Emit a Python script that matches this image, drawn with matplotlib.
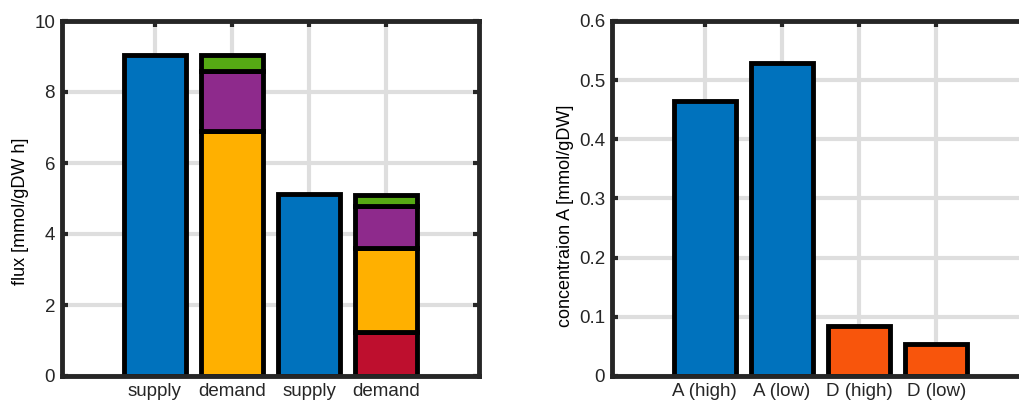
import numpy as np
import matplotlib
matplotlib.use("Agg")
import matplotlib.pyplot as plt

# ---------------------------------------------------------------- data
flux_labels = ["supply", "demand", "supply", "demand"]
supply_vals = [9.05, 5.13]
# demand stacks, bottom -> top
demand_red = [0.0, 1.25]
demand_yellow = [6.9, 2.36]
demand_purple = [1.7, 1.18]
demand_green = [0.45, 0.31]

conc_labels = ["A (high)", "A (low)", "D (high)", "D (low)"]
conc_vals = [0.465, 0.529, 0.084, 0.0535]

# ---------------------------------------------------------------- style
blue = "#0072BD"
yellow = "#FFB000"
purple = "#8E2A8C"
green = "#56AA14"
red = "#BE0F2E"
orange = "#F8550C"
axcol = "#262626"
gridcol = "#DEDEDE"

plt.rcParams["font.family"] = ["Liberation Sans", "DejaVu Sans"]
plt.rcParams["font.size"] = 13.5

fig = plt.figure(figsize=(10.19, 4.03), dpi=100)
ax1 = fig.add_axes([62 / 1019, 27 / 403, 417 / 1019, 355 / 403])
ax2 = fig.add_axes([612 / 1019, 27 / 403, 417 / 1019, 355 / 403])

bw = 0.8
kw = dict(width=bw, edgecolor="black", linewidth=3.5, zorder=3)

# left: flux supply / demand
xs = np.arange(1, 5)
ax1.bar([xs[0], xs[2]], supply_vals, color=blue, **kw)
xd = [xs[1], xs[3]]
bottom = np.zeros(2)
for vals, col in [(demand_red, red), (demand_yellow, yellow),
                  (demand_purple, purple), (demand_green, green)]:
    v = np.array(vals)
    mask = v > 0
    ax1.bar(np.array(xd)[mask], v[mask], bottom=bottom[mask], color=col, **kw)
    bottom = bottom + v
ax1.set_ylim(0, 10)
ax1.set_yticks([0, 2, 4, 6, 8, 10])
ax1.set_xticks(xs)
ax1.set_xticklabels(flux_labels)
ax1.set_ylabel("flux [mmol/gDW h]", fontsize=13)
ax1.yaxis.set_label_coords(-0.079, 0.465)

# right: concentrations
ax2.bar(xs, conc_vals, color=[blue, blue, orange, orange], **kw)
ax2.set_ylim(0, 0.6)
ax2.set_yticks([0, 0.1, 0.2, 0.3, 0.4, 0.5, 0.6])
ax2.set_yticklabels(["0", "0.1", "0.2", "0.3", "0.4", "0.5", "0.6"])
ax2.set_xticks(xs)
ax2.set_xticklabels(conc_labels)
ax2.set_ylabel("concentraion A [mmol/gDW]", fontsize=13)
ax2.yaxis.set_label_coords(-0.091, 0.45)

for ax in (ax1, ax2):
    ax.set_xlim(-0.2, 5.2)
    ax.grid(True, color=gridcol, linewidth=3, zorder=0)
    ax.set_axisbelow(True)
    for s in ax.spines.values():
        s.set_linewidth(3.5)
        s.set_color(axcol)
        s.set_zorder(4)
    ax.tick_params(direction="in", length=4, width=3, color=axcol,
                   top=True, right=True, labelcolor=axcol, pad=5)

fig.savefig("out.png", dpi=100)
